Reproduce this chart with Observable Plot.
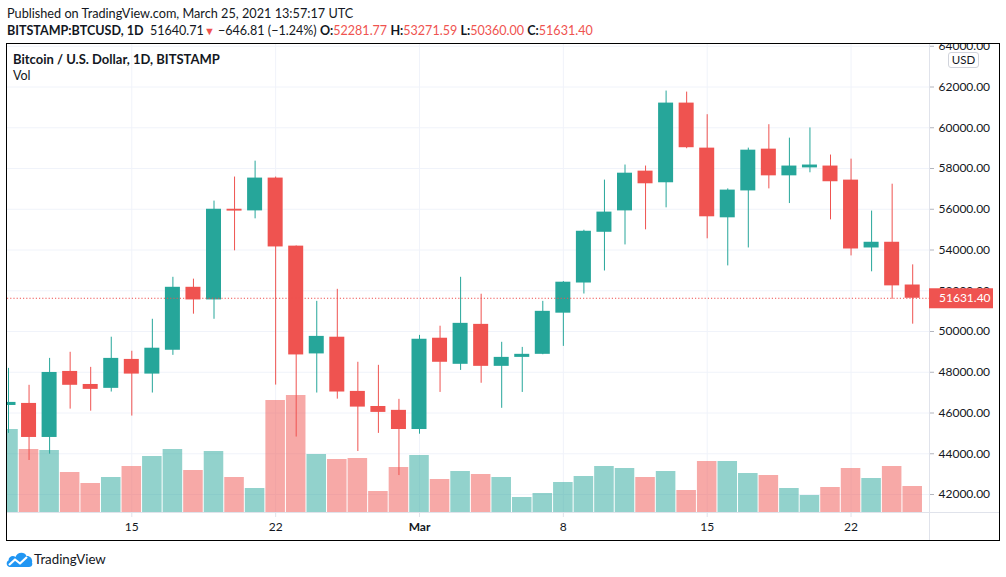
<!DOCTYPE html>
<html><head><meta charset="utf-8">
<script src="https://cdn.jsdelivr.net/npm/d3@7"></script>
<script src="https://cdn.jsdelivr.net/npm/@observablehq/plot@0.6"></script>
<style>
body{margin:0;background:#fff;font-family:Lato,sans-serif;color:#131722}
#page{position:relative;width:1006px;height:577px;overflow:hidden;background:#fff}
.abs{position:absolute;white-space:nowrap;line-height:1.2}
#chart{position:absolute;left:6px;top:43px;width:994px;height:498px;border:1px solid #000;box-sizing:border-box;overflow:hidden}
#chart svg{position:absolute;left:0;top:0}
.r{color:#ef5350}
</style></head><body>
<div id="page">
<div class="abs" style="left:7px;top:5.8px;font-size:12.7px">Published on TradingView.com, March 25, 2021 13:57:17 UTC</div>
<div class="abs" id="hdr2" style="left:7px;top:22.6px;font-size:12.55px"></div>
<div id="chart"></div>
<div class="abs" style="left:6px;top:551px">
<svg width="27" height="17" viewBox="0 0 27 17"><path d="M3.5 16 C0.5 16 -0.5 11 2.5 9.5 C2.5 5.5 7 4 9.5 6 C11 1 18.5 0 20.5 5 C24 4.5 27 8 26 11.5 C27 14 25.5 16 23 16 Z" fill="#2196f3"/><polyline points="3,14 9,8.5 14,12.5 21,6" fill="none" stroke="#fff" stroke-width="2.2" stroke-linejoin="round"/></svg>
</div>
<div class="abs" style="left:34px;top:551.8px;font-size:13.3px;color:#131722">TradingView</div>
</div>
<script>
// ---- data (BITSTAMP:BTCUSD daily) ----
const dates = ["2021-02-09","2021-02-10","2021-02-11","2021-02-12","2021-02-13","2021-02-14","2021-02-15","2021-02-16","2021-02-17","2021-02-18","2021-02-19","2021-02-20","2021-02-21","2021-02-22","2021-02-23","2021-02-24","2021-02-25","2021-02-26","2021-02-27","2021-02-28","2021-03-01","2021-03-02","2021-03-03","2021-03-04","2021-03-05","2021-03-06","2021-03-07","2021-03-08","2021-03-09","2021-03-10","2021-03-11","2021-03-12","2021-03-13","2021-03-14","2021-03-15","2021-03-16","2021-03-17","2021-03-18","2021-03-19","2021-03-20","2021-03-21","2021-03-22","2021-03-23","2021-03-24","2021-03-25"];
const open  = [46370,46470,44800,48040,47400,47210,48630,47910,49080,52170,51550,56000,55920,57530,54190,48900,49720,47060,46320,46130,45190,49670,48390,50350,48290,48730,48880,50900,52380,54870,55920,57870,57300,61210,59000,55580,56900,58950,57640,58030,58120,57430,54100,54380,52281.77];
const high  = [48190,47360,48680,48980,48240,49720,49030,50600,52660,52570,56400,57580,58360,57580,54200,51480,52070,48490,48340,46670,49810,50260,52660,51830,49470,49220,51480,52450,54970,57430,58170,58120,61800,61750,60640,57000,59000,60150,59490,59990,58660,58460,55910,57230,53271.59];
const low   = [45000,43670,43980,46190,46090,47030,45850,46980,48830,50850,50600,53960,55530,47370,44820,46980,46680,44110,45000,42930,44960,47010,48090,47460,46230,47010,48860,49270,51840,52970,54250,54990,56070,58970,54550,53220,54100,57000,56280,57790,55480,53710,52930,51580,50360.00];
const close = [46520,44800,47990,47360,47160,48680,47910,49180,52170,51550,56000,55910,57530,54150,48850,49760,47030,46290,46030,45190,49620,48490,50400,48290,48730,48880,50990,52420,54920,55860,57770,57250,61210,59020,55630,56940,58900,57640,58120,58170,57350,54050,54380,52240,51631.40];
const volume = [16600,12600,12400,8000,5800,7000,9200,11200,12600,8400,12200,7000,4800,22400,23400,11600,10600,10800,4200,9000,11400,6600,8200,7600,7000,3000,3800,6000,7200,9200,8800,7000,8200,4400,10200,10200,7800,7400,4800,3400,5000,8800,6800,9200,5200];
const priceTicks = [42000,44000,46000,48000,50000,52000,54000,56000,58000,60000,62000,64000];
const dayTicks = ["2021-02-15","2021-02-22","2021-03-08","2021-03-15","2021-03-22"];
const monthTicks = ["2021-03-01"];
const monthLabels = ["Mar"];
const lastPrice = 51640.71, change = -646.81, changePct = -1.24;

const UP = "#26a69a", DOWN = "#ef5350";
const DAY = 864e5;
const candles = dates.map((d, i) => ({date: new Date(d), open: open[i], high: high[i], low: low[i], close: close[i], volume: volume[i]}));
const col = d => d.close >= d.open ? UP : DOWN;
const shift = (d, f) => new Date(+d.date + f * DAY);

// header line 2
const last = candles[candles.length - 1];
const fmt = v => v.toFixed(2);
document.getElementById("hdr2").innerHTML =
  `<b>BITSTAMP:BTCUSD, 1D</b>&nbsp; ${fmt(lastPrice)}<span class="r" style="font-size:11px">&#9660;</span> &minus;${fmt(-change)} (&minus;${fmt(-changePct)}%) ` +
  `<b>O:</b><span class="r">${fmt(last.open)}</span> <b>H:</b><span class="r">${fmt(last.high)}</span> ` +
  `<b>L:</b><span class="r">${fmt(last.low)}</span> <b>C:</b><span class="r">${fmt(last.close)}</span>`;

const W = 992, H = 496, MR = 70, MB = 28;
const t0 = Date.UTC(2021, 1, 9) - DAY / 20.55;
const t1 = t0 + DAY * (W - MR) / 20.55;
const common = {
  width: W, height: H, marginLeft: 0, marginRight: MR, marginTop: 0, marginBottom: MB,
  style: {background: "transparent", fontFamily: "Lato, sans-serif", fontSize: "12px", color: "#131722", overflow: "visible"}
};
const yDomain = [41117, 64086];

// layer 1: grid and axes
const base = Plot.plot({
  ...common,
  x: {type: "utc", domain: [new Date(t0), new Date(t1)]},
  y: {domain: yDomain},
  marks: [
    Plot.gridY(priceTicks, {stroke: "#f0f3fa", strokeOpacity: 1}),
    Plot.gridX(dayTicks.concat(monthTicks).map(d => new Date(d)), {stroke: "#f0f3fa", strokeOpacity: 1}),
    Plot.axisY(priceTicks, {anchor: "right", tickSize: 4, tickPadding: 5, tickFormat: d => d.toFixed(2), stroke: "#b2b5be", fill: "#131722", fontSize: 12, label: null}),
    Plot.axisX(dayTicks.map(d => new Date(d)), {tickSize: 5, tickPadding: 5, tickFormat: d => String(d.getUTCDate()), stroke: "#e0e3eb", fill: "#131722", fontSize: 12, label: null}),
    Plot.axisX(monthTicks.map(d => new Date(d)), {tickSize: 5, tickPadding: 5, tickFormat: (d, i) => monthLabels[i], stroke: "#e0e3eb", fill: "#131722", fontSize: 12, fontWeight: "bold", label: null})
  ]
});
const bsel = d3.select(base);
bsel.append("line").attr("x1", 0).attr("x2", W).attr("y1", H - MB + 0.5).attr("y2", H - MB + 0.5).attr("stroke", "#e0e3eb");
bsel.append("line").attr("x1", W - MR + 0.5).attr("x2", W - MR + 0.5).attr("y1", 0).attr("y2", H).attr("stroke", "#e0e3eb");

// layer 2: volume
const vol = Plot.plot({
  ...common,
  x: {type: "utc", domain: [new Date(t0), new Date(t1)], axis: null},
  y: {domain: [0, 93600], axis: null},
  color: {type: "identity"},
  marks: [
    Plot.rectY(candles, {x1: d => shift(d, -0.5), x2: d => shift(d, 0.5), y1: 0, y2: "volume", fill: col, fillOpacity: 0.5, insetLeft: 0.5, insetRight: 0.5, clip: true})
  ]
});

// layer 3: candles
const cdl = Plot.plot({
  ...common,
  x: {type: "utc", domain: [new Date(t0), new Date(t1)], axis: null},
  y: {domain: yDomain, axis: null},
  color: {type: "identity"},
  marks: [
    Plot.ruleX(candles, {x: "date", y1: "low", y2: "high", stroke: col, strokeWidth: 1, clip: true}),
    Plot.rectY(candles, {x1: d => shift(d, -0.365), x2: d => shift(d, 0.365), y1: "open", y2: "close", fill: col, clip: true}),
    Plot.ruleY([last.close], {stroke: DOWN, strokeWidth: 1, strokeDasharray: "1.2,2"})
  ]
});
const yPix = cdl.scale("y").apply(last.close);
const csel = d3.select(cdl);
csel.append("rect").attr("x", W - MR).attr("y", yPix - 9.5).attr("width", 64).attr("height", 20).attr("fill", DOWN);
csel.append("text").attr("x", W - MR + 10).attr("y", yPix + 0.5).attr("dy", "0.35em").attr("text-anchor", "start").attr("fill", "#fff").attr("font-size", 12).text(last.close.toFixed(2));

const chart = document.getElementById("chart");
chart.append(base, vol, cdl);
chart.insertAdjacentHTML("beforeend",
  `<div class="abs" style="left:6px;top:8.2px;font-size:13px;font-weight:bold">Bitcoin / U.S. Dollar, 1D, BITSTAMP</div>` +
  `<div class="abs" style="left:6px;top:23.5px;font-size:12.5px">Vol</div>` +
  `<div class="abs" style="left:941px;top:8px;width:31px;height:16px;border:1px solid #d1d4dc;border-radius:3px;box-sizing:border-box;background:#fff;font-size:11.5px;line-height:14px;text-align:center">USD</div>`);
</script>
</body></html>
